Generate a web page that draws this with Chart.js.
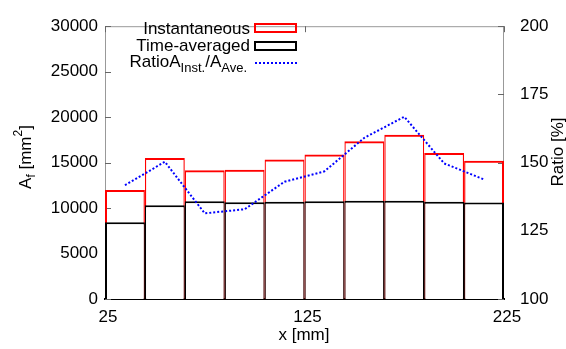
<!DOCTYPE html>
<html><head><meta charset="utf-8">
<script src="https://cdn.jsdelivr.net/npm/chart.js@4"></script>
<style>html,body{margin:0;padding:0;background:#fff}#wrap{width:566px;height:349px;position:relative}</style>
</head><body><div id="wrap"><canvas id="c"></canvas></div>
<script>
// ---- data ----
const xCenters = [35, 55, 75, 95, 115, 135, 155, 175, 195, 215];
const instantaneous = [12000, 15500, 14150, 14200, 15350, 15900, 17350, 18050, 16050, 15200];
const timeAveraged = [8450, 10300, 10750, 10650, 10700, 10750, 10800, 10800, 10700, 10600];
const ratioPct = [141.7, 150.3, 131.4, 132.9, 143.0, 146.8, 159.1, 166.8, 149.7, 143.8];
const xTickValues = [25, 125, 225];
const xRange = [25, 225];
const leftRange = [0, 30000];
const rightRange = [100, 200];

const FONT = '"Liberation Sans", Arial, Helvetica, sans-serif';
const pts = arr => xCenters.map((x, i) => ({x: x, y: arr[i]}));
const barBorder = c => ({top: 2, left: c.dataIndex === 0 ? 2 : 1.2,
  right: c.dataIndex === xCenters.length - 1 ? 2 : 1.2, bottom: 0});

function richWidth(ctx, parts) {
  let w = 0;
  for (const p of parts) { ctx.font = p.size + 'px ' + FONT; w += ctx.measureText(p.t).width; }
  return w;
}
function drawRich(ctx, parts, x, y) {
  let cx = x;
  ctx.textAlign = 'left'; ctx.textBaseline = 'alphabetic';
  for (const p of parts) {
    ctx.font = p.size + 'px ' + FONT;
    ctx.fillText(p.t, cx, y + (p.dy || 0));
    cx += ctx.measureText(p.t).width;
  }
}

const decor = {
  id: 'decor',
  beforeDatasetsDraw(chart) {
    const ctx = chart.ctx, ca = chart.chartArea;
    ctx.save();
    ctx.strokeStyle = '#999'; ctx.lineWidth = 1;
    ctx.beginPath();
    ctx.moveTo(ca.left + 0.5, ca.bottom); ctx.lineTo(ca.left + 0.5, ca.top + 0.5);
    ctx.lineTo(ca.right - 0.5, ca.top + 0.5); ctx.lineTo(ca.right - 0.5, ca.bottom);
    ctx.stroke();
    // inward tick marks
    const y = chart.scales.y, y1 = chart.scales.y1, x = chart.scales.x;
    ctx.strokeStyle = '#666';
    ctx.beginPath();
    y.ticks.forEach(t => { const py = Math.round(y.getPixelForValue(t.value)) + 0.5; ctx.moveTo(ca.left, py); ctx.lineTo(ca.left + 6, py); });
    y1.ticks.forEach(t => { const py = Math.round(y1.getPixelForValue(t.value)) + 0.5; ctx.moveTo(ca.right, py); ctx.lineTo(ca.right - 6, py); });
    x.ticks.forEach(t => { const px = Math.round(x.getPixelForValue(t.value)) + 0.5; ctx.moveTo(px, ca.top); ctx.lineTo(px, ca.top + 6); });
    ctx.stroke();
    ctx.restore();
  },
  afterDraw(chart) {
    const ctx = chart.ctx;
    ctx.save();
    ctx.fillStyle = '#000';
    // left axis title  A_f [mm^2]
    const lt = [{t: 'A', size: 17}, {t: 'f', size: 12, dy: 4}, {t: ' [mm', size: 17}, {t: '2', size: 12, dy: -9}, {t: ']', size: 17}];
    ctx.save(); ctx.translate(31, 157); ctx.rotate(-Math.PI / 2);
    drawRich(ctx, lt, -richWidth(ctx, lt) / 2, 0); ctx.restore();
    // right axis title
    const rt = [{t: 'Ratio [%]', size: 17}];
    ctx.save(); ctx.translate(563, 152); ctx.rotate(-Math.PI / 2);
    drawRich(ctx, rt, -richWidth(ctx, rt) / 2, 0); ctx.restore();
    // x axis title
    const xt = [{t: 'x [mm]', size: 17}];
    drawRich(ctx, xt, 304 - richWidth(ctx, xt) / 2, 340);
    // legend
    const rx = 250;
    const l1 = [{t: 'Instantaneous', size: 17}];
    drawRich(ctx, l1, rx - richWidth(ctx, l1), 34);
    const l2 = [{t: 'Time-averaged', size: 17}];
    drawRich(ctx, l2, rx - richWidth(ctx, l2), 51);
    const l3 = [{t: 'RatioA', size: 17}, {t: 'Inst.', size: 13, dy: 5}, {t: '/A', size: 17}, {t: 'Ave.', size: 13, dy: 5}];
    drawRich(ctx, l3, rx - 3 - richWidth(ctx, l3), 67);
    ctx.lineWidth = 2;
    ctx.strokeStyle = '#ff0000'; ctx.strokeRect(255, 24, 41, 8);
    ctx.strokeStyle = '#000000'; ctx.strokeRect(255, 42, 41, 8);
    ctx.strokeStyle = '#0000ff'; ctx.setLineDash([2, 2]);
    ctx.beginPath(); ctx.moveTo(255, 63); ctx.lineTo(297, 63); ctx.stroke();
    ctx.restore();
  }
};

Chart.defaults.font.family = FONT;
Chart.defaults.font.size = 17;
Chart.defaults.color = '#000';

new Chart(document.getElementById('c'), {
  type: 'bar',
  data: {
    datasets: [
      {type: 'line', label: 'Ratio', data: pts(ratioPct), yAxisID: 'y1', order: 0,
       borderColor: '#0000ff', borderWidth: 2, borderDash: [2, 2], pointRadius: 0, tension: 0, fill: false},
      {label: 'Time-averaged', data: pts(timeAveraged), yAxisID: 'y', order: 1,
       backgroundColor: '#ffffff', borderColor: '#000000',
       borderWidth: barBorder, borderSkipped: false, inflateAmount: 0,
       barPercentage: 1, categoryPercentage: 1, grouped: false},
      {label: 'Instantaneous', data: pts(instantaneous), yAxisID: 'y', order: 2,
       backgroundColor: 'rgba(0,0,0,0)', borderColor: '#ff0000',
       borderWidth: barBorder, borderSkipped: false, inflateAmount: 0,
       barPercentage: 1, categoryPercentage: 1, grouped: false}
    ]
  },
  options: {
    responsive: true, maintainAspectRatio: false, animation: false,
    devicePixelRatio: 1,
    layout: {padding: {top: 16, left: 0, right: 0, bottom: 0}},
    plugins: {legend: {display: false}, tooltip: {enabled: false}},
    scales: {
      x: {type: 'linear', offset: false, min: xRange[0], max: xRange[1],
          afterBuildTicks: s => { s.ticks = xTickValues.map(v => ({value: v})); },
          afterFit: s => { s.height = 50; },
          grid: {display: false, drawTicks: false},
          border: {display: true, color: '#000', width: 2},
          ticks: {padding: 8, labelOffset: 3, maxRotation: 0, autoSkip: false}},
      y: {type: 'linear', position: 'left', min: leftRange[0], max: leftRange[1],
          afterFit: s => { s.width = 105; },
          grid: {display: false, drawTicks: false}, border: {display: false},
          ticks: {stepSize: 5000, padding: 7, callback: v => String(v)}},
      y1: {type: 'linear', position: 'right', min: rightRange[0], max: rightRange[1],
          afterFit: s => { s.width = 62; },
          grid: {display: false, drawTicks: false}, border: {display: false},
          ticks: {stepSize: 25, padding: 16, callback: v => String(v)}}
    }
  },
  plugins: [decor]
});
</script>
</body></html>
